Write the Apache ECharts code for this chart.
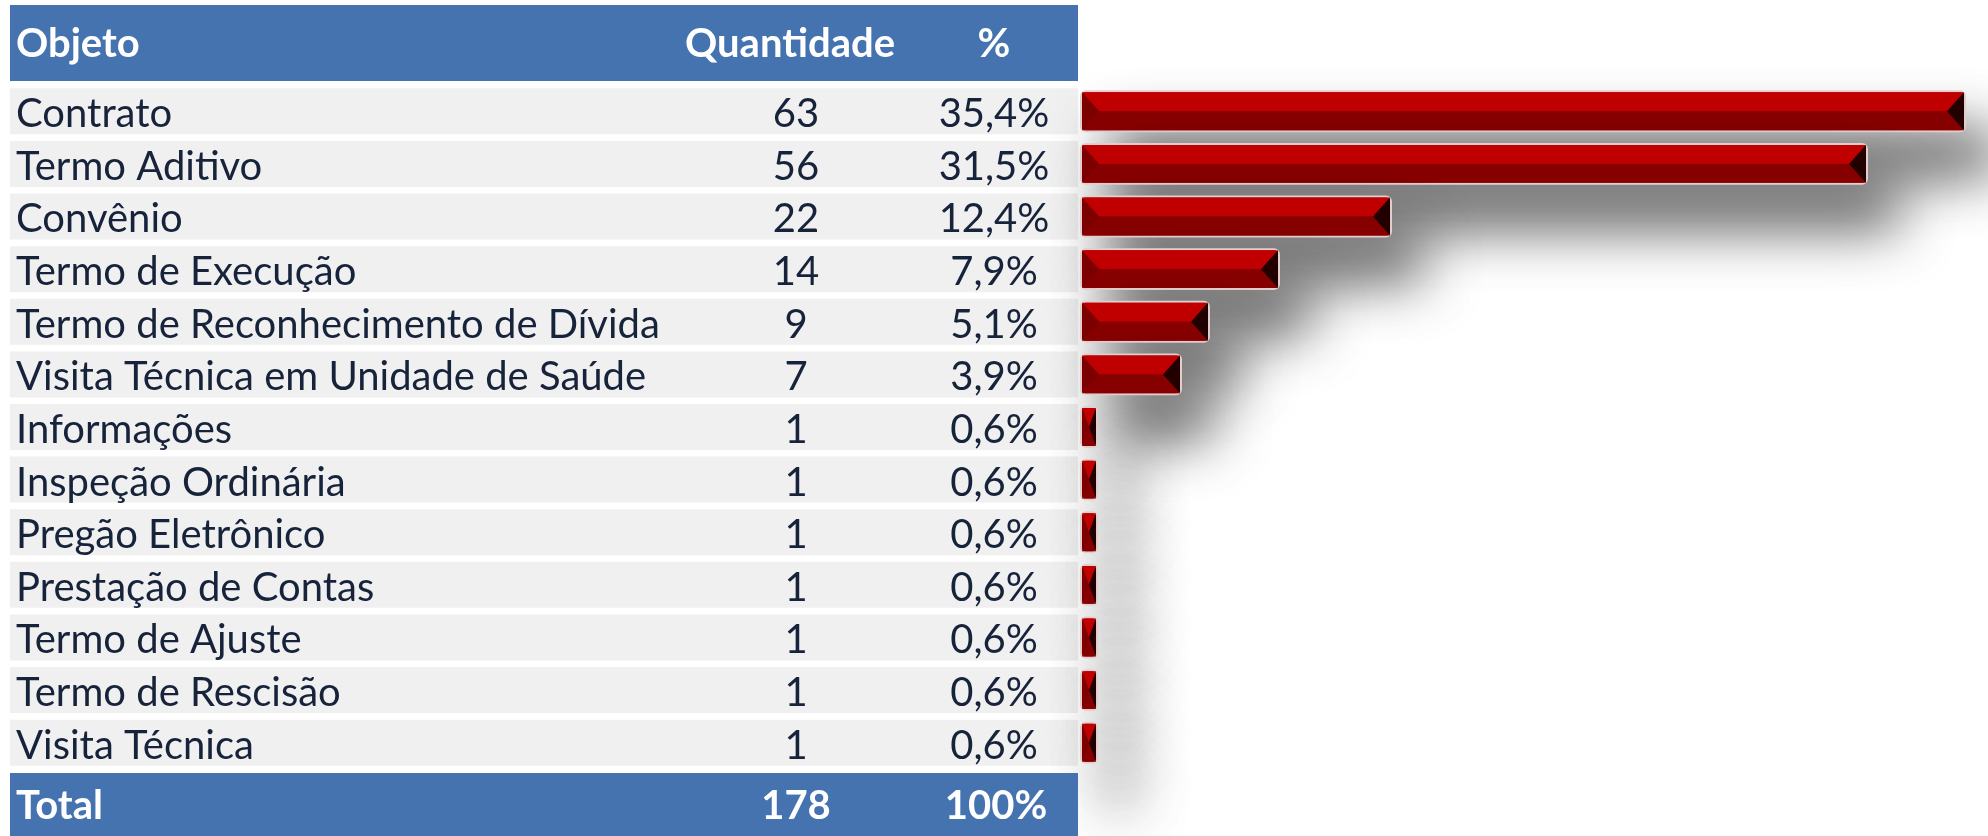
<!DOCTYPE html>
<html>
<head>
<meta charset="utf-8">
<script src="https://cdn.jsdelivr.net/npm/echarts@6/dist/echarts.min.js"></script>
<style>
html,body{margin:0;padding:0;background:#fff;}
#chart{width:1988px;height:836px;}
</style>
</head>
<body>
<div id="chart"></div>
<script>
const categories = ['Contrato','Termo Aditivo','Convênio','Termo de Execução','Termo de Reconhecimento de Dívida','Visita Técnica em Unidade de Saúde','Informações','Inspeção Ordinária','Pregão Eletrônico','Prestação de Contas','Termo de Ajuste','Termo de Rescisão','Visita Técnica'];
const quantities = [63,56,22,14,9,7,1,1,1,1,1,1,1];
const percents = ['35,4%','31,5%','12,4%','7,9%','5,1%','3,9%','0,6%','0,6%','0,6%','0,6%','0,6%','0,6%','0,6%'];
const headers = ['Objeto','Quantidade','%'];
const totals = ['Total','178','100%'];

const FONT = 'Lato';
const TXT = '#16233a';
const BLUE = '#4473B0';

const chart = echarts.init(document.getElementById('chart'), null, {renderer:'canvas'});

function headerText(t, x, y, align){
  return {type:'text', style:{text:t, x:x, y:y, align:align, verticalAlign:'middle', fill:'#fff', fontFamily:FONT, fontWeight:'bold', fontSize:40}, z:10};
}

const option = {
  backgroundColor:'#ffffff',
  animation:false,
  grid:{left:1082, right:24, top:85, height:684, containLabel:false},
  xAxis:{type:'value', min:0, max:63, show:false},
  yAxis:{
    type:'category', data:categories, inverse:true,
    axisLine:{show:false}, axisTick:{show:false}, splitLine:{show:false},
    axisLabel:{
      interval:0, margin:4, align:'right',
      backgroundColor:'#f0f0f0',
      padding:[6,26,0,6],
      fontFamily:FONT, fontSize:40, color:TXT,
      formatter:function(v, i){
        return '{n|' + v + '}{q|' + quantities[i] + '}{s| }{p|' + percents[i] + '}';
      },
      rich:{
        n:{width:700, align:'left', fontFamily:FONT, fontSize:40, color:TXT, lineHeight:40},
        q:{width:160, align:'center', fontFamily:FONT, fontSize:40, color:TXT, lineHeight:40},
        s:{width:60, fontSize:40, lineHeight:40},
        p:{width:116, align:'center', fontFamily:FONT, fontSize:40, color:TXT, lineHeight:40}
      }
    }
  },
  series:[{
    type:'custom',
    data: quantities.map((q,i)=>[q,i]),
    encode:{x:0, y:1},
    renderItem:function(params, api){
      const v = api.value(0), c = api.value(1);
      const p0 = api.coord([0,c]);
      const p1 = api.coord([v,c]);
      const bh = api.size([0,1])[1]*0.72;
      const x0 = p0[0], x1 = p1[0];
      const yt = p0[1]-bh/2, yb = p0[1]+bh/2, ym = p0[1];
      const d = Math.min(17, (x1-x0)/2);
      return {type:'group', children:[
        {type:'rect', shape:{x:x0-1, y:yt-1, width:x1-x0+2, height:bh+2, r:5},
          style:{fill:'#900000', stroke:'rgba(230,205,205,1)', lineWidth:2, shadowBlur:55, shadowColor:'rgba(0,0,0,0.7)', shadowOffsetX:30, shadowOffsetY:42}},
        {type:'polygon', shape:{points:[[x0,yt],[x1,yt],[x1-d,ym],[x0+d,ym]]}, style:{fill:'#c00000'}},
        {type:'polygon', shape:{points:[[x0+d,ym],[x1-d,ym],[x1,yb],[x0,yb]]}, style:{fill:'#860000'}},
        {type:'polygon', shape:{points:[[x0,yt],[x0+d,ym],[x0,yb]]}, style:{fill:'#7c0000'}},
        {type:'polygon', shape:{points:[[x1,yt],[x1,yb],[x1-d,ym]]}, style:{fill:'#220000'}}
      ]};
    }
  }],
  graphic:[
    {type:'rect', shape:{x:10, y:5, width:1068, height:76}, style:{fill:BLUE}, z:5},
    headerText(headers[0], 16, 44, 'left'),
    headerText(headers[1], 790, 44, 'center'),
    headerText(headers[2], 994, 44, 'center'),
    {type:'rect', shape:{x:10, y:773, width:1068, height:63}, style:{fill:BLUE}, z:5},
    headerText(totals[0], 16, 806, 'left'),
    headerText(totals[1], 796, 806, 'center'),
    headerText(totals[2], 996, 806, 'center')
  ]
};
chart.setOption(option);
</script>
</body>
</html>
